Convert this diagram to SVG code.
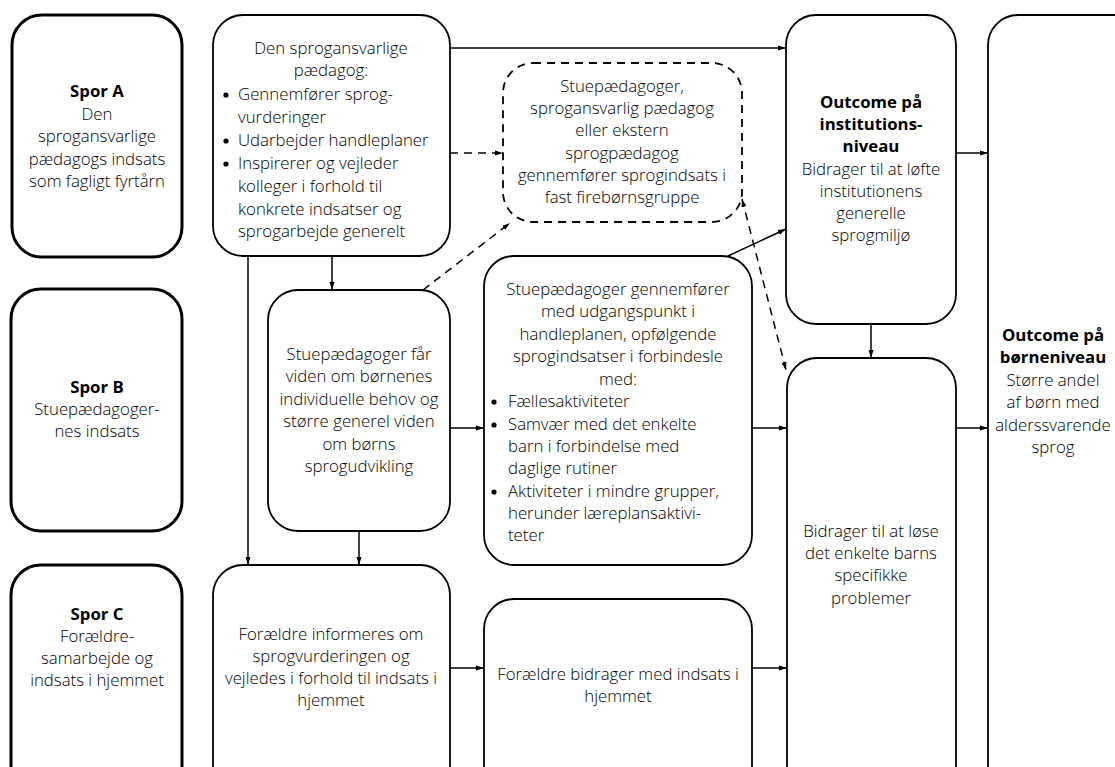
<svg xmlns="http://www.w3.org/2000/svg" width="1115" height="767" viewBox="0 0 1115 767">
<style>
.spor{fill:#fff;stroke:#000;stroke-width:3}
.box{fill:#fff;stroke:#000;stroke-width:1.8}
.dbox{fill:#fff;stroke:#000;stroke-width:1.8;stroke-dasharray:8 6}
text{font-family:"Open Sans","Noto Sans","Liberation Sans",sans-serif;font-size:16.8px;font-weight:300;fill:#000}
.c{text-anchor:middle}
.b{font-weight:bold}
.ln{fill:none;stroke:#000;stroke-width:1.5}
.dl{fill:none;stroke:#000;stroke-width:1.5;stroke-dasharray:8 6}
</style>
<defs>
<marker id="ah" markerUnits="userSpaceOnUse" markerWidth="10" markerHeight="8" refX="8" refY="4" orient="auto-start-reverse">
<path d="M0,1.5 L8,4 L0,6.5 Z" fill="#000"/>
</marker>
</defs>
<rect width="1115" height="767" fill="#fff"/>

<g id="connectors">
<line class="ln" x1="450" y1="48" x2="786" y2="48" marker-end="url(#ah)"/>
<line class="dl" x1="450" y1="153" x2="503" y2="153" marker-end="url(#ah)"/>
<line class="ln" x1="956" y1="153" x2="988" y2="153" marker-end="url(#ah)"/>
<line class="ln" x1="332" y1="256" x2="332" y2="290" marker-end="url(#ah)"/>
<line class="ln" x1="248" y1="256" x2="248" y2="565" marker-end="url(#ah)"/>
<line class="ln" x1="359" y1="531" x2="359" y2="565" marker-end="url(#ah)"/>
<line class="dl" x1="423" y1="290" x2="510" y2="223" marker-end="url(#ah)"/>
<line class="ln" x1="728" y1="256" x2="786" y2="229" marker-end="url(#ah)"/>
<line class="dl" x1="742" y1="199" x2="786" y2="370" marker-start="url(#ah)" marker-end="url(#ah)"/>
<line class="ln" x1="871" y1="324" x2="871" y2="358" marker-end="url(#ah)"/>
<line class="ln" x1="450" y1="428" x2="484" y2="428" marker-end="url(#ah)"/>
<line class="ln" x1="752" y1="428" x2="787" y2="428" marker-end="url(#ah)"/>
<line class="ln" x1="956" y1="428" x2="988" y2="428" marker-end="url(#ah)"/>
<line class="ln" x1="450" y1="668" x2="484" y2="668" marker-end="url(#ah)"/>
<line class="ln" x1="752" y1="668" x2="787" y2="668" marker-end="url(#ah)"/>
</g>

<g id="spor-a">
<rect class="spor" x="12" y="15" width="170" height="242" rx="30"/>
<text class="c" x="97" y="97"><tspan class="b" x="97">Spor A</tspan><tspan x="97" dy="22.5">Den</tspan><tspan x="97" dy="22.5">sprogansvarlige</tspan><tspan x="97" dy="22.5">pædagogs indsats</tspan><tspan x="97" dy="22.5">som fagligt fyrtårn</tspan></text>
</g>

<g id="spor-b">
<rect class="spor" x="11" y="289" width="171" height="242" rx="30"/>
<text class="c" x="97" y="393"><tspan class="b" x="97">Spor B</tspan><tspan x="97" dy="22">Stuepædagoger-</tspan><tspan x="97" dy="22">nes indsats</tspan></text>
</g>

<g id="spor-c">
<rect class="spor" x="11" y="565" width="171" height="240" rx="30"/>
<text class="c" x="97" y="620"><tspan class="b" x="97">Spor C</tspan><tspan x="97" dy="22">Forældre-</tspan><tspan x="97" dy="22">samarbejde og</tspan><tspan x="97" dy="22">indsats i hjemmet</tspan></text>
</g>

<g id="sprogansvarlig">
<rect class="box" x="213" y="15" width="237" height="241" rx="30"/>
<text class="c" x="331" y="54"><tspan x="331">Den sprogansvarlige</tspan><tspan x="331" dy="22">pædagog:</tspan></text>
<g>
<circle cx="226" cy="95" r="2.6"/><circle cx="226" cy="141" r="2.6"/><circle cx="226" cy="164" r="2.6"/>
</g>
<text x="238" y="100"><tspan x="238">Gennemfører sprog-</tspan><tspan x="238" dy="22.8">vurderinger</tspan><tspan x="238" dy="23.5">Udarbejder handleplaner</tspan><tspan x="238" dy="23">Inspirerer og vejleder</tspan><tspan x="238" dy="23">kolleger i forhold til</tspan><tspan x="238" dy="23">konkrete indsatser og</tspan><tspan x="238" dy="22">sprogarbejde generelt</tspan></text>
</g>

<g id="firebornsgruppe">
<rect class="dbox" x="503" y="63" width="239" height="159" rx="30"/>
<text class="c" x="622" y="92"><tspan x="622">Stuepædagoger,</tspan><tspan x="622" dy="22.2">sprogansvarlig pædagog</tspan><tspan x="622" dy="22.2">eller ekstern</tspan><tspan x="622" dy="22.2">sprogpædagog</tspan><tspan x="622" dy="22.2">gennemfører sprogindsats i</tspan><tspan x="622" dy="22.2">fast firebørnsgruppe</tspan></text>
</g>

<g id="outcome-institution">
<rect class="box" x="786" y="15" width="170" height="309" rx="30"/>
<text class="c" x="871" y="108"><tspan class="b" x="871">Outcome på</tspan><tspan class="b" x="871" dy="22.2">institutions-</tspan><tspan class="b" x="871" dy="22.2">niveau</tspan><tspan x="871" dy="22.2">Bidrager til at løfte</tspan><tspan x="871" dy="22.2">institutionens</tspan><tspan x="871" dy="22.2">generelle</tspan><tspan x="871" dy="22.2">sprogmiljø</tspan></text>
</g>

<g id="outcome-born">
<rect class="box" x="988" y="15" width="160" height="790" rx="30"/>
<text class="c" x="1053" y="341"><tspan class="b" x="1053">Outcome på</tspan><tspan class="b" x="1053" dy="22.4">børneniveau</tspan><tspan x="1053" dy="22.4">Større andel</tspan><tspan x="1053" dy="22.4">af børn med</tspan><tspan x="1053" dy="22.4">alderssvarende</tspan><tspan x="1053" dy="22.4">sprog</tspan></text>
</g>

<g id="viden">
<rect class="box" x="268" y="290" width="182" height="241" rx="30"/>
<text class="c" x="359" y="360"><tspan x="359">Stuepædagoger får</tspan><tspan x="359" dy="22.4">viden om børnenes</tspan><tspan x="359" dy="22.4">individuelle behov og</tspan><tspan x="359" dy="22.4">større generel viden</tspan><tspan x="359" dy="22.4">om børns</tspan><tspan x="359" dy="22.4">sprogudvikling</tspan></text>
</g>

<g id="opfolgende">
<rect class="box" x="484" y="256" width="268" height="309" rx="30"/>
<text class="c" x="618" y="295"><tspan x="618">Stuepædagoger gennemfører</tspan><tspan x="618" dy="22.4">med udgangspunkt i</tspan><tspan x="618" dy="22.4">handleplanen, opfølgende</tspan><tspan x="618" dy="22.4">sprogindsatser i forbindesle</tspan><tspan x="618" dy="22.4">med:</tspan></text>
<g>
<circle cx="494" cy="402" r="2.6"/><circle cx="494" cy="425" r="2.6"/><circle cx="494" cy="492" r="2.6"/>
</g>
<text x="508" y="407"><tspan x="508">Fællesaktiviteter</tspan><tspan x="508" dy="22.6">Samvær med det enkelte</tspan><tspan x="508" dy="22.2">barn i forbindelse med</tspan><tspan x="508" dy="22.2">daglige rutiner</tspan><tspan x="508" dy="22.6">Aktiviteter i mindre grupper,</tspan><tspan x="508" dy="22.2">herunder læreplansaktivi-</tspan><tspan x="508" dy="22.2">teter</tspan></text>
</g>

<g id="born-problemer">
<rect class="box" x="787" y="358" width="169" height="447" rx="30"/>
<text class="c" x="871" y="537"><tspan x="871">Bidrager til at løse</tspan><tspan x="871" dy="22.2">det enkelte barns</tspan><tspan x="871" dy="22.2">specifikke</tspan><tspan x="871" dy="22.2">problemer</tspan></text>
</g>

<g id="foraeldre-informeres">
<rect class="box" x="213" y="565" width="237" height="240" rx="30"/>
<text class="c" x="331" y="640"><tspan x="331">Forældre informeres om</tspan><tspan x="331" dy="22">sprogvurderingen og</tspan><tspan x="331" dy="22">vejledes i forhold til indsats i</tspan><tspan x="331" dy="22">hjemmet</tspan></text>
</g>

<g id="foraeldre-bidrager">
<rect class="box" x="484" y="599" width="268" height="206" rx="30"/>
<text class="c" x="618" y="680"><tspan x="618">Forældre bidrager med indsats i</tspan><tspan x="618" dy="22">hjemmet</tspan></text>
</g>
</svg>
